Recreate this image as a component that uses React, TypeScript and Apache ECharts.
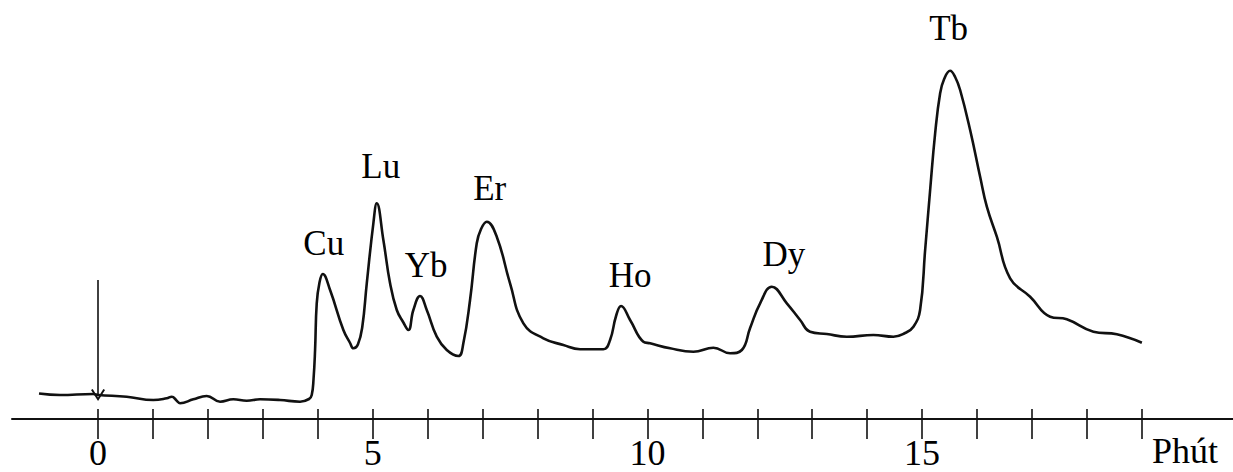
import React, { useEffect, useRef } from "react";
import * as echarts from "echarts";

// Retention time (minutes) and detector signal (arbitrary units)
const times = [
  -1.074, -0.692, -0.086, 0.005, 0.522, 1.007, 1.251, 1.342, 1.433, 1.493, 1.735, 1.979,
  2.221, 2.463, 2.707, 2.949, 3.313, 3.677, 3.841, 3.89, 3.923, 3.951, 3.981, 4.029,
  4.091, 4.224, 4.466, 4.588, 4.648, 4.73, 4.81, 4.892, 5.012, 5.074, 5.194, 5.316,
  5.438, 5.553, 5.649, 5.74, 5.862, 5.984, 6.166, 6.348, 6.559, 6.65, 6.772, 6.894,
  6.972, 7.076, 7.258, 7.5, 7.743, 8.107, 8.471, 8.775, 9.199, 9.321, 9.43, 9.521,
  9.685, 9.927, 10.049, 10.413, 10.838, 11.202, 11.506, 11.719, 11.87, 12.052, 12.265,
  12.538, 12.78, 12.962, 13.266, 13.63, 14.114, 14.478, 14.691, 14.843, 14.964, 15.056,
  15.147, 15.238, 15.329, 15.402, 15.511, 15.602, 15.693, 15.875, 16.057, 16.179,
  16.361, 16.603, 16.967, 17.331, 17.635, 18.119, 18.546, 19.001,
];
const signal = [
  25.5, 24, 25, 24, 22.3, 19, 20.7, 22.3, 18.3, 15.7, 19.7, 23,
  17.3, 19.7, 18.3, 19.7, 19, 17.3, 20, 24, 40, 69, 115.7, 135.7,
  145, 129, 89, 76, 70.7, 74.5, 92, 135.7, 195.7, 215.7, 179, 135.7,
  109, 97, 89, 109, 123, 109, 82.3, 69, 63, 75.7, 119, 175.7,
  190, 197.3, 182.3, 135.7, 95.7, 80.7, 74, 69.7, 69.7, 79, 103, 113,
  99, 77.3, 75.7, 70.7, 67.3, 71.3, 65.7, 69, 91, 115.7, 132.3,
  115.7, 99, 87.3, 85, 82.3, 84, 82.3, 86, 92.3, 109, 169,
  229, 285.7, 325.7, 340, 348.3, 342, 329, 289, 242.3, 212.3,
  182.3, 140.7, 122.3, 102.3, 99.7, 87.3, 84.7, 76.3,
];

// Peaks
const peakNames = ["Cu", "Lu", "Yb", "Er", "Ho", "Dy", "Tb"];
const peakTimes = [4.091, 5.074, 5.862, 7.076, 9.521, 12.265, 15.511];
const peakHeights = [145, 215.7, 123, 197.3, 113, 132.3, 348.3];

// Axis ticks
const minorTicks = [0, 1, 2, 3, 4, 5, 6, 7, 8, 9, 10, 11, 12, 13, 14, 15, 16, 17, 18, 19];
const tickLabels = [0, 5, 10, 15];
const axisUnit = "Phút";

// Injection marker
const injectionTime = 0;
const injectionTop = 139;
const injectionBottom = 24;

// layout (label offsets in px, not data)
const labelOffsets: [number, number][] = [
  [1, -31], [4, -37], [6, -31], [3, -33], [9, -31], [12, -32], [-1.5, -42],
];

const FONT = "'Liberation Serif', 'Times New Roman', serif";
const INK = "#000";

export default function App() {
  const ref = useRef<HTMLDivElement>(null);
  useEffect(() => {
    if (!ref.current) return;
    const chart = echarts.init(ref.current, undefined, { renderer: "svg" });
    const xMin = -1.566;
    const xMax = 20.66;
    chart.setOption({
      animation: false,
      backgroundColor: "#ffffff",
      grid: { left: 12, right: 0, top: 19, bottom: 53 },
      xAxis: [
        {
          type: "value",
          min: xMin,
          max: xMax,
          splitLine: { show: false },
          axisLine: { show: true, onZero: false, lineStyle: { color: "#111", width: 2 } },
          axisTick: {
            show: true,
            inside: false,
            length: 20,
            customValues: minorTicks,
            lineStyle: { color: "#111", width: 1.6 },
          },
          axisLabel: {
            show: true,
            customValues: tickLabels,
            margin: 16,
            fontFamily: FONT,
            fontSize: 36,
            color: INK,
          },
        },
        {
          type: "value",
          min: xMin,
          max: xMax,
          position: "bottom",
          splitLine: { show: false },
          axisLine: { show: false },
          axisLabel: { show: false },
          axisTick: {
            show: true,
            inside: true,
            length: 10,
            customValues: minorTicks,
            lineStyle: { color: "#111", width: 1.6 },
          },
        },
      ],
      yAxis: { type: "value", min: 0, max: 400, show: false },
      graphic: [
        {
          type: "text",
          left: 1152,
          top: 433,
          style: { text: axisUnit, font: `36px ${FONT}`, fill: INK },
        },
      ],
      series: [
        {
          type: "line",
          data: times.map((t, i) => [t, signal[i]]),
          showSymbol: false,
          smooth: 0.45,
          lineStyle: { color: "#111", width: 2.6 },
          markLine: {
            silent: true,
            symbol: ["none", "path://M5,0 L10,10 L8.8,11 L5,3.2 L1.2,11 L0,10 Z"],
            symbolSize: [14, 12],
            label: { show: false },
            lineStyle: { color: "#111", width: 1.6, type: "solid" },
            data: [
              [
                { coord: [injectionTime, injectionTop] },
                { coord: [injectionTime, injectionBottom] },
              ],
            ],
          },
        },
        {
          type: "scatter",
          data: peakNames.map((n, i) => ({
            value: [peakTimes[i], peakHeights[i]],
            name: n,
            label: { offset: labelOffsets[i] },
          })),
          symbolSize: 1,
          itemStyle: { color: "rgba(0,0,0,0)" },
          label: {
            show: true,
            position: "inside",
            formatter: (p: any) => p.name,
            fontFamily: FONT,
            fontSize: 35,
            color: INK,
            opacity: 1,
          },
        },
      ],
    });
    return () => chart.dispose();
  }, []);
  return (
    <div
      ref={ref}
      style={{ position: "absolute", left: 0, top: 0, width: 1233, height: 472 }}
    />
  );
}
